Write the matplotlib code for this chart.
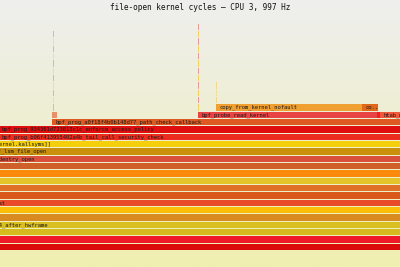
import numpy as np
import matplotlib
matplotlib.use("Agg")
import matplotlib.pyplot as plt

TITLE = "file-open kernel cycles \u2014 CPU 3, 997 Hz"

# frames of the zoomed flame graph: stack depth, first sample, sample count, name
frame_depth = [0, 1, 2, 3, 4, 5, 6, 7, 8, 9, 10, 11, 12, 13, 14, 15, 16, 17,
               18, 18, 18, 18, 19, 19]
frame_start = [-400, -380, -300, -52.7, -120, -110, -50, -90, -85, -80, -75, -60,
               -13, -11.3, -13, -1.3, -1.3, 52,
               52, 198, 377, 380, 216, 362]
frame_width = [900, 880, 800, 552, 620, 610, 550, 590, 585, 580, 575, 560,
               513, 511, 513, 501, 501, 420,
               4.5, 179, 3, 60, 146, 15.7]
frame_name = ["all", "file_open_bench", "__libc_open64",
              "entry_SYSCALL_64_after_hwframe", "do_syscall_64", "x64_sys_call",
              "__x64_sys_openat", "do_sys_openat2", "do_filp_open", "path_openat",
              "do_open", "vfs_open", "do_dentry_open", "bpf_lsm_file_open",
              "[[kernel.kallsyms]]",
              "bpf_prog_b06f413955402a4b_tail_call_security_check",
              "bpf_prog_934361d723613c1c_enforce_access_policy",
              "bpf_prog_a0f18f4b0b148d77_path_check_callback",
              "", "bpf_probe_read_kernel", "", "htab_map_lookup_elem",
              "copy_from_kernel_nofault", "copy_from_kernel_nofault"]
frame_color = ["#dc0b0b", "#ee1a2a", "#d5bb1d", "#dabf22", "#d98a20", "#fbbd08",
               "#e84a2a", "#d95818", "#e07028", "#e4c428", "#fb8a0c", "#d0602a",
               "#d9503c", "#c9900c", "#f5cf0c", "#eb2c1e", "#e00e0e", "#de5a22",
               "#e8906a", "#e84444", "#f02020", "#f05a3a", "#f0a030", "#e06818"]

# narrow deep stacks (single-sample towers)
spike_start = [53.3, 198.0, 216.0, 361.6]
spike_width = [0.6, 0.9, 0.7, 0.6]
spike_base = [19, 19, 20, 20]
spike_top = [29, 30, 22, 27]
spike_colors = [["#eab0a8", "#f0d8b0"], ["#f0d060", "#e89a98"],
                ["#f0d890", "#f0e0a0"], ["#f0ccc4", "#f0e0c0"]]

ROW_PX = 7.33
BOTTOM_PX = 251
FIG_W, FIG_H = 400, 267
CHAR_PX = 3.35
GAP = 0.14

fig = plt.figure(figsize=(FIG_W / 100, FIG_H / 100), dpi=100)
ax = fig.add_axes([0, 0, 1, 1])
y_top = BOTTOM_PX / ROW_PX
y_bot = -(FIG_H - BOTTOM_PX) / ROW_PX
ax.set_xlim(0, FIG_W)
ax.set_ylim(y_bot, y_top)
ax.axis("off")

# background gradient like flamegraph.pl
grad = np.linspace(0, 1, 256).reshape(-1, 1)
c0 = np.array([0xee, 0xee, 0xee]) / 255
c1 = np.array([0xf0, 0xf0, 0xb0]) / 255
img = c0 + grad[..., None] * (c1 - c0)
ax.imshow(img, extent=(0, FIG_W, y_bot, y_top), aspect="auto", zorder=0)

for d, s, w, name, col in zip(frame_depth, frame_start, frame_width,
                              frame_name, frame_color):
    ax.bar(s, 1 - GAP, width=w, bottom=d + GAP, align="edge", color=col,
           linewidth=0, zorder=2)
    n = int((w - 1) / CHAR_PX)
    label = name
    if len(label) > n:
        label = label[:n - 2] + ".." if n >= 3 else ""
    # skip labels that lie wholly left of the zoomed view
    if label and s + 3 + len(label) * CHAR_PX > 0:
        ax.text(s + 3, d + GAP + (1 - GAP) / 2, label, ha="left", va="center",
                family="DejaVu Sans Mono", fontsize=4, color="#1a1a1a",
                clip_on=True, zorder=3)

for s, w, b, t, cols in zip(spike_start, spike_width, spike_base, spike_top,
                            spike_colors):
    for i, d in enumerate(range(b, t + 1)):
        ax.bar(s, 1 - GAP, width=w, bottom=d + GAP, align="edge",
               color=cols[i % 2], linewidth=0, zorder=2)

fig.text(0.5, 1 - 8 / FIG_H, TITLE, ha="center", va="center",
         family="DejaVu Sans Mono", fontsize=5.6, color="#111111")

fig.savefig("out.png", dpi=100)
